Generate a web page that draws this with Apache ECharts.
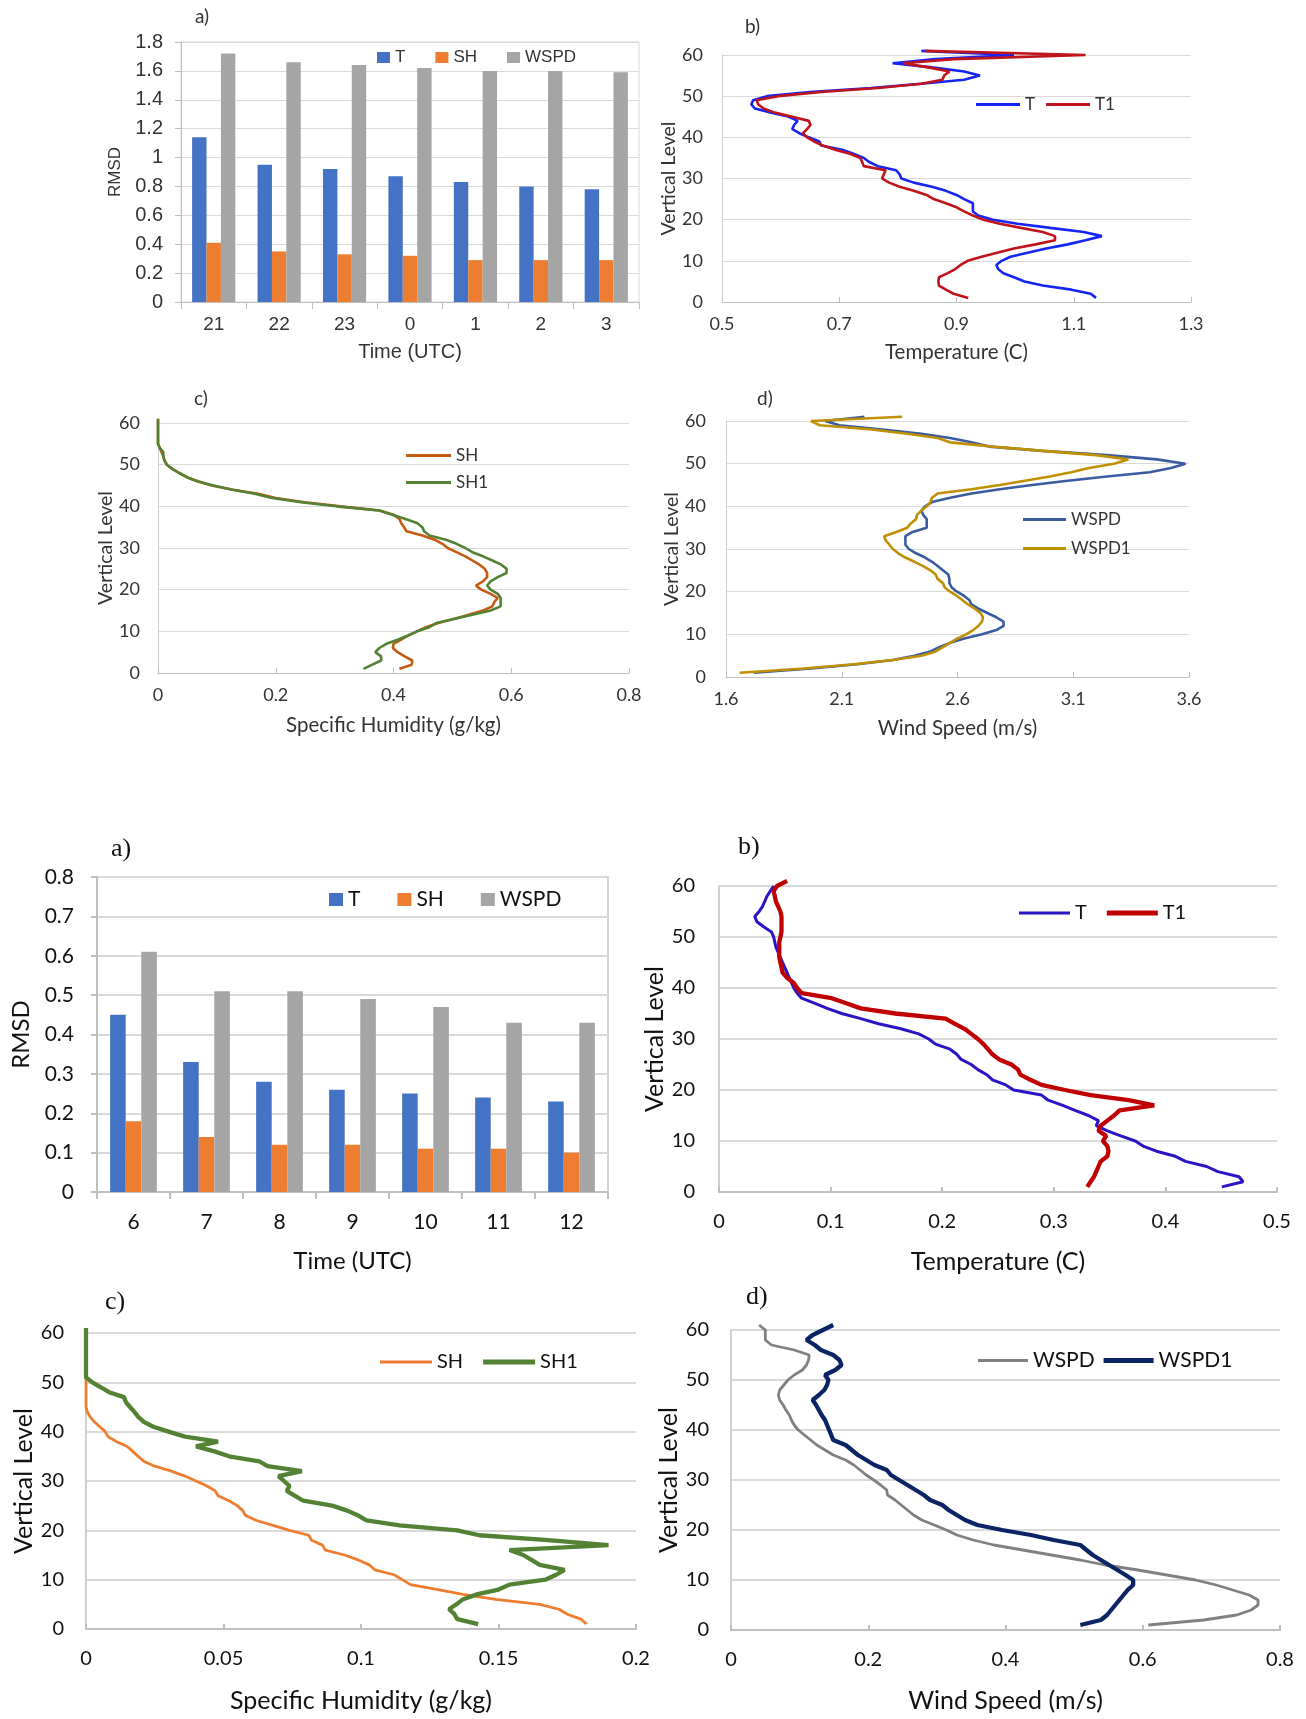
<!DOCTYPE html>
<html><head><meta charset="utf-8">
<script src="https://cdn.jsdelivr.net/npm/echarts@6/dist/echarts.min.js"></script>
<style>html,body{margin:0;padding:0;background:#fff}#c{width:1306px;height:1719px}</style>
</head><body><div id="c"></div>
<script>
// ---------- DATA ----------
// Panel set 1 (top)
const TIMES_1 = ['21','22','23','0','1','2','3'];
const RMSD1_T    = [1.14,0.95,0.92,0.87,0.83,0.80,0.78];
const RMSD1_SH   = [0.41,0.35,0.33,0.32,0.29,0.29,0.29];
const RMSD1_WSPD = [1.72,1.66,1.64,1.62,1.60,1.60,1.59];

const TEMP1_T  = [1.138,1.129,1.096,1.047,1.016,0.998,0.98,0.971,0.968,0.977,0.992,1.023,1.053,1.09,1.12,1.148,1.117,1.06,1.004,0.962,0.937,0.928,0.928,0.928,0.913,0.90,0.882,0.858,0.827,0.806,0.803,0.797,0.766,0.751,0.742,0.724,0.705,0.669,0.666,0.648,0.632,0.62,0.623,0.629,0.614,0.584,0.556,0.55,0.553,0.577,0.65,0.754,0.84,0.913,0.94,0.913,0.858,0.791,0.864,0.998,0.84];
const TEMP1_T1 = [0.92,0.895,0.882,0.87,0.869,0.87,0.885,0.898,0.907,0.919,0.943,0.971,0.998,1.035,1.068,1.068,1.047,1.01,0.974,0.946,0.928,0.913,0.90,0.882,0.861,0.849,0.827,0.803,0.785,0.773,0.776,0.779,0.742,0.739,0.736,0.718,0.693,0.672,0.657,0.645,0.638,0.645,0.651,0.648,0.62,0.59,0.571,0.562,0.559,0.596,0.669,0.766,0.84,0.876,0.879,0.888,0.852,0.809,0.895,1.12,0.846];

const HUM1_SH  = [0.41,0.431,0.432,0.419,0.407,0.399,0.40,0.413,0.425,0.44,0.455,0.476,0.504,0.528,0.552,0.568,0.571,0.577,0.565,0.549,0.54,0.552,0.559,0.559,0.555,0.546,0.534,0.522,0.507,0.492,0.483,0.47,0.449,0.422,0.418,0.413,0.41,0.40,0.376,0.31,0.249,0.20,0.17,0.127,0.091,0.067,0.049,0.036,0.024,0.015,0.011,0.009,0.006,0.003,0,0,0,0,0,0,0];
const HUM1_SH1 = [0.349,0.364,0.379,0.379,0.369,0.376,0.388,0.407,0.425,0.44,0.461,0.473,0.504,0.534,0.565,0.582,0.582,0.582,0.577,0.565,0.559,0.565,0.577,0.592,0.592,0.583,0.568,0.552,0.534,0.522,0.507,0.489,0.461,0.452,0.449,0.44,0.419,0.398,0.376,0.303,0.243,0.194,0.164,0.127,0.094,0.067,0.049,0.036,0.024,0.015,0.011,0.009,0.009,0.003,0,0,0,0,0,0,0];

const WIND1_WSPD  = [1.72,1.967,2.167,2.321,2.414,2.483,2.521,2.568,2.629,2.706,2.768,2.799,2.799,2.768,2.729,2.691,2.66,2.652,2.629,2.598,2.575,2.565,2.565,2.56,2.537,2.514,2.49,2.46,2.421,2.39,2.375,2.375,2.375,2.406,2.467,2.467,2.467,2.452,2.444,2.46,2.49,2.568,2.66,2.783,2.922,3.076,3.246,3.43,3.522,3.585,3.461,3.246,2.968,2.737,2.66,2.568,2.444,2.275,2.09,2.028,2.198];
const WIND1_WSPD1 = [1.659,1.936,2.152,2.321,2.444,2.506,2.537,2.568,2.598,2.637,2.668,2.691,2.706,2.71,2.699,2.675,2.645,2.622,2.598,2.568,2.545,2.537,2.514,2.506,2.483,2.452,2.414,2.375,2.344,2.321,2.306,2.29,2.283,2.336,2.383,2.398,2.421,2.425,2.444,2.467,2.483,2.49,2.514,2.66,2.783,2.891,2.999,3.091,3.168,3.276,3.338,3.199,2.968,2.753,2.568,2.514,2.383,2.229,2.005,1.967,2.36];

// Panel set 2 (bottom)
const TIMES_2 = ['6','7','8','9','10','11','12'];
const RMSD2_T    = [0.45,0.33,0.28,0.26,0.25,0.24,0.23];
const RMSD2_SH   = [0.18,0.14,0.12,0.12,0.11,0.11,0.10];
const RMSD2_WSPD = [0.61,0.51,0.51,0.49,0.47,0.43,0.43];

const TEMP2_T  = [0.4506,0.4696,0.466,0.447,0.437,0.418,0.409,0.392,0.380,0.373,0.36,0.348,0.338,0.34,0.331,0.319,0.308,0.295,0.289,0.264,0.257,0.245,0.24,0.232,0.226,0.217,0.213,0.207,0.194,0.188,0.179,0.163,0.143,0.127,0.110,0.097,0.086,0.074,0.07,0.067,0.065,0.063,0.061,0.059,0.057,0.055,0.053,0.051,0.05,0.049,0.047,0.04,0.034,0.032,0.036,0.039,0.041,0.043,0.046,0.049];
const TEMP2_T1 = [0.330,0.333,0.336,0.338,0.34,0.342,0.348,0.349,0.348,0.344,0.347,0.34,0.342,0.348,0.354,0.359,0.390,0.367,0.333,0.31,0.289,0.279,0.27,0.268,0.262,0.251,0.245,0.241,0.237,0.232,0.226,0.22,0.211,0.203,0.158,0.127,0.114,0.101,0.074,0.07,0.067,0.061,0.057,0.056,0.055,0.054,0.054,0.054,0.054,0.055,0.056,0.056,0.056,0.056,0.055,0.053,0.051,0.05,0.049,0.052,0.061];

const HUM2_SH  = [0.182,0.18,0.175,0.172,0.165,0.149,0.137,0.128,0.118,0.115,0.112,0.105,0.103,0.099,0.094,0.087,0.086,0.082,0.081,0.074,0.068,0.062,0.058,0.057,0.055,0.052,0.048,0.047,0.044,0.04,0.036,0.031,0.025,0.021,0.019,0.017,0.015,0.011,0.008,0.007,0.005,0.003,0.0015,0.0005,0,0,0,0,0,0,0,0,0,0,0,0,0,0,0,0,0];
const HUM2_SH1 = [0.1426,0.135,0.134,0.132,0.1347,0.137,0.142,0.15,0.154,0.167,0.171,0.174,0.165,0.162,0.159,0.154,0.19,0.168,0.143,0.135,0.114,0.102,0.099,0.095,0.0895,0.079,0.076,0.073,0.074,0.072,0.07,0.0785,0.066,0.063,0.052,0.0467,0.04,0.048,0.036,0.03,0.0245,0.021,0.019,0.0176,0.016,0.0145,0.0138,0.0084,0.0054,0.0023,0,0,0,0,0,0,0,0,0,0,0];

const WIND2_WSPD  = [0.608,0.689,0.737,0.758,0.768,0.768,0.755,0.731,0.707,0.677,0.635,0.593,0.545,0.509,0.467,0.425,0.383,0.353,0.329,0.314,0.296,0.278,0.266,0.257,0.248,0.239,0.228,0.227,0.218,0.208,0.197,0.188,0.179,0.167,0.149,0.137,0.125,0.116,0.107,0.098,0.092,0.088,0.085,0.08,0.076,0.071,0.069,0.071,0.077,0.083,0.092,0.104,0.11,0.113,0.114,0.092,0.059,0.05,0.05,0.05,0.041];
const WIND2_WSPD1 = [0.509,0.539,0.548,0.554,0.56,0.566,0.572,0.578,0.586,0.586,0.575,0.563,0.551,0.539,0.527,0.518,0.509,0.47,0.437,0.395,0.359,0.341,0.329,0.317,0.308,0.29,0.281,0.269,0.257,0.245,0.233,0.227,0.209,0.197,0.185,0.176,0.167,0.149,0.146,0.143,0.14,0.137,0.132,0.128,0.124,0.119,0.128,0.136,0.14,0.142,0.137,0.152,0.161,0.158,0.149,0.131,0.122,0.11,0.119,0.134,0.149];

// tick labels
const TICKS_TEMP1 = [0.5,0.7,0.9,1.1,1.3];
const TICKS_HUM1  = [0,0.2,0.4,0.6,0.8];
const TICKS_WIND1 = [1.6,2.1,2.6,3.1,3.6];
const TICKS_TEMP2 = [0,0.1,0.2,0.3,0.4,0.5];
const TICKS_HUM2  = [0,0.05,0.1,0.15,0.2];
const TICKS_WIND2 = [0,0.2,0.4,0.6,0.8];

// ---------- BUILD ----------
const ARIAL = '"Liberation Sans", Arial, sans-serif';
const CAL = 'Lato, "Open Sans", sans-serif';
const SERIF = '"Liberation Serif", "Times New Roman", serif';
const TXT_TOP = '#333333';
const TXT_BOT = '#111111';
const pairs = (vals) => vals.map((v, i) => [v, i + 1]);
const fmtName = (n) => n.split(':')[1];

const grids = [
  {left:181, top:42, width:458, height:260, show:true, borderColor:'#d9d9d9', borderWidth:1},
  {left:722, top:55, width:469, height:247},
  {left:158, top:423, width:471, height:250},
  {left:726, top:421, width:463, height:256},
  {left:97, top:877, width:511, height:315, show:true, borderColor:'#d4d4d4', borderWidth:2},
  {left:719, top:886, width:558, height:306},
  {left:86, top:1333, width:550, height:296},
  {left:731, top:1330, width:549, height:300}
];

function barX(gi, cats, fs, margin, nameGap, ff, col, nfs, aw) {
  return {type:'category', gridIndex:gi, data:cats,
    axisLine:{lineStyle:{color:'#bfbfbf', width:aw}},
    axisTick:{show:true, alignWithLabel:false, length:7, lineStyle:{color:'#bfbfbf', width:aw}},
    axisLabel:{fontSize:fs, color:col, margin:margin, fontFamily:ff},
    name:'Time (UTC)', nameLocation:'middle', nameGap:nameGap,
    nameTextStyle:{fontSize:nfs, color:col, fontFamily:ff}};
}
function barY(gi, max, interval, fs, margin, nameGap, ff, col, nfs, gw) {
  return {type:'value', gridIndex:gi, min:0, max:max, interval:interval,
    axisLine:{show:true, lineStyle:{color:'#bfbfbf', width:gw}},
    axisTick:{show:true, length:6, lineStyle:{color:'#bfbfbf', width:gw}},
    axisLabel:{fontSize:fs, color:col, margin:margin, fontFamily:ff},
    splitLine:{lineStyle:{color:'#d9d9d9', width:gw}},
    name:'RMSD', nameLocation:'middle', nameRotate:90, nameGap:nameGap,
    nameTextStyle:{fontSize:nfs, color:col, fontFamily:ff}};
}
function lineX(gi, min, max, ticks, name, fs, margin, nameGap, col, nfs, aw) {
  return {type:'value', gridIndex:gi, min:min, max:max,
    axisLine:{show:true, onZero:false, lineStyle:{color:'#bfbfbf', width:aw}},
    axisTick:{show:true, inside:true, length:5, customValues:ticks, lineStyle:{color:'#bfbfbf', width:aw}},
    axisLabel:{customValues:ticks, fontSize:fs, color:col, margin:margin, fontFamily:CAL},
    splitLine:{show:false},
    name:name, nameLocation:'middle', nameGap:nameGap,
    nameTextStyle:{fontSize:nfs, color:col, fontFamily:CAL}};
}
function lineY(gi, fs, margin, nameGap, col, nfs, gw) {
  return {type:'value', gridIndex:gi, min:0, max:60, interval:10,
    axisLine:{show:true, onZero:false, lineStyle:{color:'#d0d0d0', width:gw}},
    axisTick:{show:false},
    axisLabel:{fontSize:fs, color:col, margin:margin, fontFamily:CAL},
    splitLine:{lineStyle:{color:'#d9d9d9', width:gw}},
    name:'Vertical Level', nameLocation:'middle', nameRotate:90, nameGap:nameGap,
    nameTextStyle:{fontSize:nfs, color:col, fontFamily:CAL}};
}

const xAxes = [
  barX(0, TIMES_1, 19, 13, 40, ARIAL, TXT_TOP, 20, 1),
  lineX(1, 0.5, 1.3, TICKS_TEMP1, 'Temperature (C)', 18, 13, 40, TXT_TOP, 20.5, 1),
  lineX(2, 0, 0.8, TICKS_HUM1, 'Specific Humidity (g/kg)', 18, 13, 42, TXT_TOP, 20.5, 1),
  lineX(3, 1.6, 3.6, TICKS_WIND1, 'Wind Speed (m/s)', 18, 13, 41, TXT_TOP, 20.5, 1),
  barX(4, TIMES_2, 21, 20, 57, CAL, TXT_BOT, 24, 2),
  lineX(5, 0, 0.5, TICKS_TEMP2, 'Temperature (C)', 20, 20, 57, TXT_BOT, 25, 2),
  lineX(6, 0, 0.2, TICKS_HUM2, 'Specific Humidity (g/kg)', 20, 20, 59, TXT_BOT, 25, 2),
  lineX(7, 0, 0.8, TICKS_WIND2, 'Wind Speed (m/s)', 20, 20, 58, TXT_BOT, 25, 2)
];
const yAxes = [
  barY(0, 1.8, 0.2, 20, 18, 57, ARIAL, TXT_TOP, 17, 1),
  lineY(1, 18, 19, 38, TXT_TOP, 19.5, 1),
  lineY(2, 18, 18, 42, TXT_TOP, 19.5, 1),
  lineY(3, 18, 20, 43, TXT_TOP, 19.5, 1),
  barY(4, 0.8, 0.1, 21, 23, 64, CAL, TXT_BOT, 24, 2),
  lineY(5, 20, 24, 45, TXT_BOT, 25, 2),
  lineY(6, 20, 22, 48, TXT_BOT, 25, 2),
  lineY(7, 20, 22, 41, TXT_BOT, 25, 2)
];

function bar(name, gi, data, color, gap) {
  return {type:'bar', name:name, xAxisIndex:gi, yAxisIndex:gi, data:data,
    itemStyle:{color:color}, barGap:'0%', barCategoryGap:gap};
}
function line(name, gi, vals, color, w) {
  return {type:'line', name:name, xAxisIndex:gi, yAxisIndex:gi, data:pairs(vals),
    symbol:'none', clip:false, lineStyle:{color:color, width:w}, itemStyle:{color:color},
    emphasis:{disabled:true}};
}

const series = [
  bar('a1:T', 0, RMSD1_T, '#4472C4', '34%'),
  bar('a1:SH', 0, RMSD1_SH, '#ED7D31', '34%'),
  bar('a1:WSPD', 0, RMSD1_WSPD, '#A5A5A5', '34%'),
  line('b1:T', 1, TEMP1_T, '#1626F2', 2.6),
  line('b1:T1', 1, TEMP1_T1, '#C0141C', 2.6),
  line('c1:SH', 2, HUM1_SH, '#C55A11', 2.6),
  line('c1:SH1', 2, HUM1_SH1, '#548235', 2.6),
  line('d1:WSPD', 3, WIND1_WSPD, '#3A5B9F', 2.6),
  line('d1:WSPD1', 3, WIND1_WSPD1, '#BF9000', 2.6),
  bar('a2:T', 4, RMSD2_T, '#4472C4', '36%'),
  bar('a2:SH', 4, RMSD2_SH, '#ED7D31', '36%'),
  bar('a2:WSPD', 4, RMSD2_WSPD, '#A5A5A5', '36%'),
  line('b2:T', 5, TEMP2_T, '#2B14C4', 3),
  line('b2:T1', 5, TEMP2_T1, '#C00000', 4.3),
  line('c2:SH', 6, HUM2_SH, '#ED7D31', 2.8),
  line('c2:SH1', 6, HUM2_SH1, '#548235', 4.3),
  line('d2:WSPD', 7, WIND2_WSPD, '#808080', 2.8),
  line('d2:WSPD1', 7, WIND2_WSPD1, '#0B2463', 4.3)
];

// legend line icon: a bar of the given length and thickness
const lineIcon = (len, th) => 'path://M0,0H' + len + 'V' + th + 'H0Z';
function item(name, len, th) { return {name:name, icon:lineIcon(len, th)}; }

function legend(data, left, top, o) {
  return Object.assign({data:data, left:left, top:top, padding:0, selectedMode:false,
    formatter:fmtName, itemGap:10, itemWidth:40, itemHeight:14, symbolKeepAspect:true,
    textStyle:{fontSize:17, color:TXT_TOP, fontFamily:CAL}}, o);
}
const legends = [
  legend(['a1:T','a1:SH','a1:WSPD'], 377, 49, {icon:'rect', itemWidth:13, itemHeight:11, itemGap:30,
    textStyle:{fontSize:17, color:TXT_TOP, fontFamily:ARIAL}}),
  legend([item('b1:T',44,3), item('b1:T1',44,3)], 976, 96, {itemWidth:44, itemHeight:17, itemGap:11}),
  legend([item('c1:SH',45,3), item('c1:SH1',45,3)], 406, 447, {orient:'vertical', itemWidth:45, itemHeight:17, itemGap:10}),
  legend([item('d1:WSPD',43,3), item('d1:WSPD1',43,3)], 1023, 511, {orient:'vertical', itemWidth:43, itemHeight:17, itemGap:12}),
  legend(['a2:T','a2:SH','a2:WSPD'], 329, 889, {icon:'rect', itemWidth:14, itemHeight:13, itemGap:37,
    textStyle:{fontSize:21, color:TXT_BOT, fontFamily:CAL}}),
  legend([item('b2:T',51,3), item('b2:T1',51,5)], 1019, 903, {itemWidth:51, itemHeight:20, itemGap:20,
    textStyle:{fontSize:20, color:TXT_BOT, fontFamily:CAL}}),
  legend([item('c2:SH',52,3), item('c2:SH1',52,5)], 380, 1352, {itemWidth:52, itemHeight:20, itemGap:20,
    textStyle:{fontSize:20, color:TXT_BOT, fontFamily:CAL}}),
  legend([item('d2:WSPD',50,3), item('d2:WSPD1',50,5)], 978, 1350, {itemWidth:50, itemHeight:21, itemGap:9,
    textStyle:{fontSize:21, color:TXT_BOT, fontFamily:CAL}})
];

function ttl(text, left, top, fs, ff, col) {
  return {text:text, left:left, top:top, padding:0,
    textStyle:{fontSize:fs, fontWeight:'normal', fontFamily:ff, color:col}};
}
const titles = [
  ttl('a)', 195, 7, 19, CAL, TXT_TOP),
  ttl('b)', 745, 17, 19, CAL, TXT_TOP),
  ttl('c)', 194, 389, 19, CAL, TXT_TOP),
  ttl('d)', 757, 389, 19, CAL, TXT_TOP),
  ttl('a)', 111, 836, 26, SERIF, TXT_BOT),
  ttl('b)', 738, 834, 26, SERIF, TXT_BOT),
  ttl('c)', 105, 1289, 26, SERIF, TXT_BOT),
  ttl('d)', 746, 1284, 26, SERIF, TXT_BOT)
];

const chart = echarts.init(document.getElementById('c'), null, {renderer:'canvas'});
chart.setOption({
  backgroundColor:'#ffffff',
  animation:false,
  title:titles,
  legend:legends,
  grid:grids,
  xAxis:xAxes,
  yAxis:yAxes,
  series:series
});
</script>
</body></html>
